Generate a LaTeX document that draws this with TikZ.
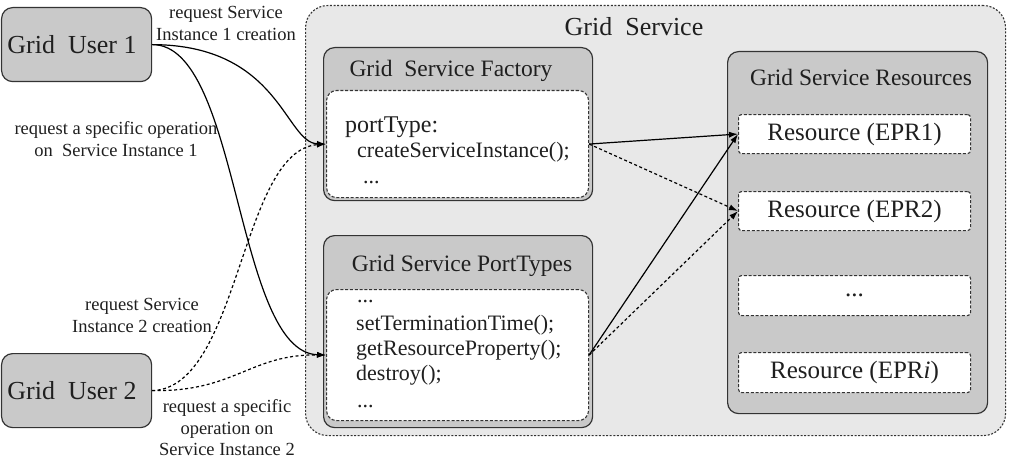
\documentclass[tikz,border=0pt]{standalone}
\usepackage{fontspec}
\setmainfont{Liberation Serif}
\usetikzlibrary{arrows.meta}
\begin{document}
\begin{tikzpicture}[x=1pt,y=-1pt,
  every node/.style={text=black!88},
  grbox/.style={draw=black!80, line width=1.2pt, fill=black!21, rounded corners=11pt, inner sep=0pt, anchor=north west},
  outerbox/.style={draw=black!80, line width=1.1pt, dash pattern=on 2pt off 1.6pt, fill=black!9, rounded corners=22pt, inner sep=0pt, anchor=north west},
  innerbox/.style={draw=black!80, line width=1.1pt, dash pattern=on 3pt off 1.8pt, fill=white, rounded corners=10pt, inner sep=0pt, anchor=north west},
  resbox/.style={draw=black!80, line width=1.1pt, dash pattern=on 3pt off 1.8pt, fill=white, rounded corners=3pt, inner sep=0pt, anchor=north west, minimum width=232pt, minimum height=39pt, font=\fontsize{25}{29}\selectfont},
  bigtxt/.style={font=\fontsize{26}{30}\selectfont, inner sep=0pt},
  titletxt/.style={font=\fontsize{23.5}{27}\selectfont, inner sep=0pt},
  codetxt/.style={font=\fontsize{22}{26}\selectfont, inner sep=0pt, anchor=base west},
  lbl/.style={font=\fontsize{18.5}{22}\selectfont, align=center, inner sep=0pt},
  conn/.style={line width=1.2pt, draw=black, -{Latex[length=9pt,width=6pt]}},
  dconn/.style={conn, dash pattern=on 3pt off 2.5pt}
]
\useasboundingbox (0,0) rectangle (1010,460);

% outer Grid Service
\node[outerbox, minimum width=700pt, minimum height=430pt] (gs) at (305,5) {};
\node[bigtxt] (gstitle) at (634,27) {Grid~~Service};

% users
\node[grbox, minimum width=150pt, minimum height=74pt] (u1) at (1,7) {};
\node[bigtxt] (u1t) at (72,45) {Grid~~User 1};
\node[grbox, minimum width=150pt, minimum height=74pt] (u2) at (1,353) {};
\node[bigtxt] (u2t) at (72,391) {Grid~~User 2};

% factory
\node[grbox, minimum width=269pt, minimum height=153pt] (fac) at (323,47) {};
\node[titletxt] (fact) at (451,71) {Grid~~Service Factory};
\node[innerbox, minimum width=262pt, minimum height=107pt] (facin) at (326,90) {};
\node[codetxt, font=\fontsize{24}{28}\selectfont] (f1) at (345,132) {portType:};
\node[codetxt] (f2) at (357,157) {createServiceInstance();};
\node[codetxt] (f3) at (363,183) {...};

% port types
\node[grbox, minimum width=269pt, minimum height=192pt] (pt) at (323,235) {};
\node[titletxt] (ptt) at (462,266) {Grid Service PortTypes};
\node[innerbox, minimum width=262pt, minimum height=131pt] (ptin) at (326,289) {};
\node[codetxt] (p1) at (357,302) {...};
\node[codetxt] (p2) at (356,330) {setTerminationTime();};
\node[codetxt] (p3) at (356,355) {getResourceProperty();};
\node[codetxt] (p4) at (356,380) {destroy();};
\node[codetxt] (p5) at (357,407) {...};

% resources
\node[grbox, minimum width=260pt, minimum height=362pt] (res) at (727,51) {};
\node[titletxt] (rest) at (861,77) {Grid Service Resources};
\node[resbox] (r1) at (738,114) {Resource (EPR1)};
\node[resbox] (r2) at (738,191) {Resource (EPR2)};
\node[resbox, minimum height=40pt] (r3) at (738,275) {...};
\node[resbox, minimum height=40pt] (r4) at (738,352) {Resource (EPR\textit{i})};

% labels
\node[lbl] (l1) at (226,23) {request Service\\Instance 1 creation};
\node[lbl] (l2) at (116,139) {request a specific operation\\on~~Service Instance 1};
\node[lbl] (l3) at (142,315) {request Service\\Instance 2 creation};
\node[lbl, font=\fontsize{18.5}{21.5}\selectfont] (l4) at (227,428) {request a specific\\operation on\\Service Instance 2};

% user connectors
\draw[conn] (u1.east) .. controls (280,45) and (285,143) .. (facin.west);
\draw[conn] (u1.east) .. controls (240,44) and (235,352) .. (ptin.west);
\draw[dconn] (u2.east) .. controls (240,388) and (240,150) .. (facin.west);
\draw[dconn] (u2.east) .. controls (235,392) and (250,354) .. (ptin.west);

% to resources
\draw[conn] (facin.east) -- (r1.west);
\draw[dconn] (facin.east) -- (r2.west);
\draw[conn] (ptin.east) -- (r1.west);
\draw[dconn] (ptin.east) -- (r2.west);
\end{tikzpicture}
\end{document}
